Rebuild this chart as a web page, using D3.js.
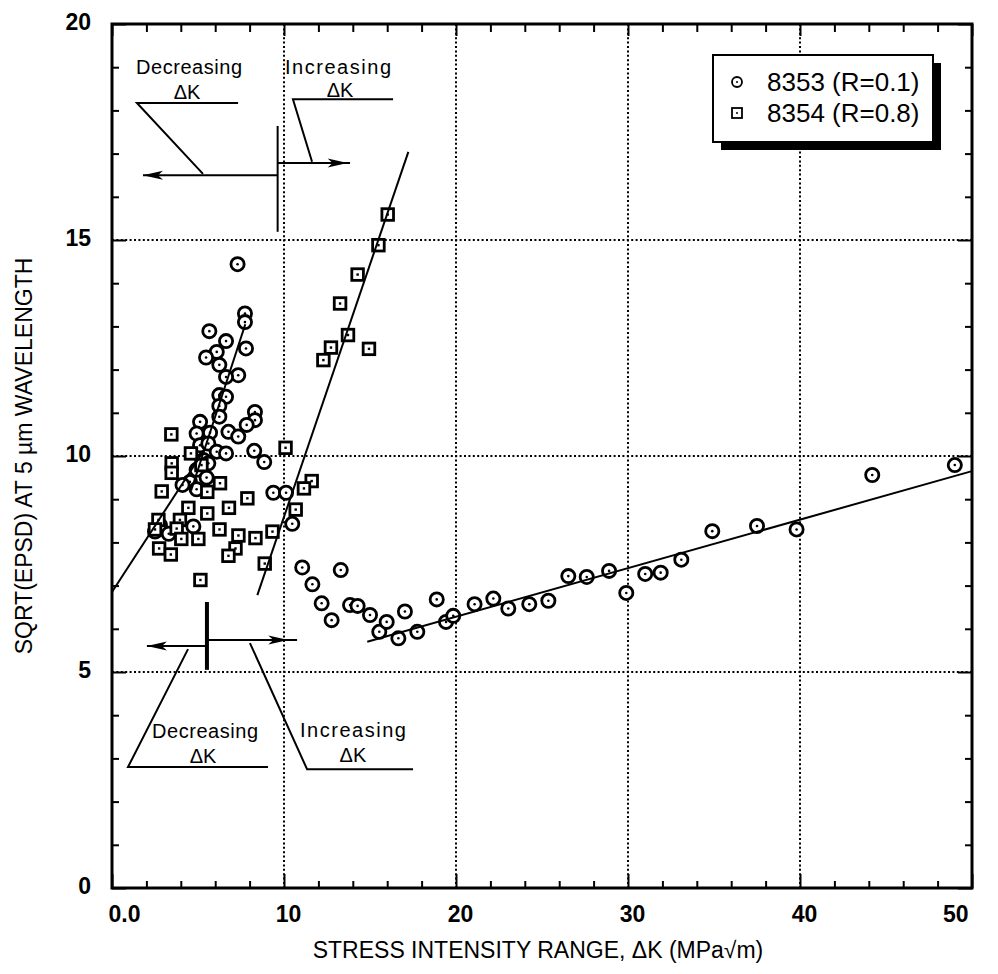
<!DOCTYPE html>
<meta charset="utf-8">
<style>
    body { margin: 0; background: #fff; }
    .axis .domain { display: none; }
    .axis line { stroke: #000; stroke-width: 2; }
    .axis text {
        font-family: "Liberation Sans Narrow", "Liberation Sans", Arial, sans-serif;
        font-weight: bold;
        font-size: 23px;
        fill: #000;
    }
    .note { font-family: "Liberation Sans", Arial, sans-serif; font-size: 20px; fill: #000; }
    .title { font-family: "Liberation Sans", Arial, sans-serif; font-size: 23px; fill: #000; }
</style>
<svg width="998" height="974"></svg>
<script src="https://cdn.jsdelivr.net/npm/d3@7"></script>
<script>

// --- data ---
var xMajor = [0, 10, 20, 30, 40, 50];
var yMajor = [0, 5, 10, 15, 20];
var xGrid = [10, 20, 30, 40];
var yGrid = [5, 10, 15];

// 8353 (R=0.1)  [dK, sqrt(EPSD)]
var s8353 = [
    [7.3,14.44],[7.73,13.3],[7.73,13.1],[5.66,12.89],[6.63,12.66],[7.79,12.49],[6.09,12.41],
    [5.47,12.28],[6.24,12.11],[7.34,11.87],[6.63,11.83],[6.24,11.41],[6.63,11.37],[6.24,11.16],
    [8.31,11.02],[6.24,10.91],[5.12,10.79],[8.31,10.83],[7.83,10.72],[6.77,10.56],[4.92,10.52],
    [7.34,10.45],[5.7,10.54],[5.12,10.25],[5.6,10.29],[6.09,10.1],[6.63,10.06],[8.27,10.12],
    [8.85,9.86],[5.31,9.91],[5.6,9.83],[4.92,9.68],[5.5,9.5],[4.53,9.4],[4.1,9.33],[4.92,9.23],
    [9.38,9.15],[10.12,9.15],[10.48,8.43],[4.73,8.37],[2.5,8.25],[2.79,8.4],[3.3,8.2],
    [11.06,7.42],[11.65,7.03],[12.19,6.59],[12.77,6.2],[13.3,7.36],[13.84,6.55],[14.28,6.53],
    [15.0,6.32],[15.54,5.93],[15.97,6.16],[16.65,5.78],[17.03,6.4],[17.75,5.93],[18.88,6.68],
    [19.42,6.16],[19.84,6.3],[21.08,6.57],[22.17,6.7],[23.04,6.47],[24.26,6.57],[25.37,6.65],
    [26.53,7.22],[27.6,7.2],[28.9,7.34],[29.9,6.83],[31.0,7.27],[31.9,7.3],[33.1,7.6],
    [34.9,8.26],[37.5,8.38],[39.8,8.3],[44.2,9.56],[49.0,9.79]
];

// 8354 (R=0.8)
var s8354 = [
    [16.03,15.59],[15.49,14.88],[14.28,14.2],[13.26,13.53],[13.72,12.8],[12.73,12.51],[12.29,12.22],
    [14.94,12.48],[3.45,10.5],[4.59,10.06],[10.09,10.19],[3.47,9.83],[3.47,9.61],[5.2,9.79],
    [2.89,9.18],[6.28,9.37],[5.54,9.17],[11.61,9.42],[11.16,9.25],[7.87,9.02],[6.8,8.8],
    [4.44,8.8],[5.54,8.67],[10.68,8.76],[3.95,8.52],[2.7,8.52],[6.25,8.3],[9.33,8.25],
    [2.5,8.3],[3.76,8.32],[4.03,8.08],[5.02,8.08],[7.35,8.16],[8.34,8.1],[2.74,7.86],
    [3.42,7.72],[7.18,7.86],[6.77,7.69],[8.88,7.51],[5.14,7.13]
];

// fitted lines (end points)
var fit8353Dec = [[4.6, 9.2], [7.75, 13.05]];
var fit8353Inc = [[14.84, 5.7], [50, 9.65]];
var fit8354Dec = [[0, 6.85], [5.3, 10.1]];
var fit8354Inc = [[8.45, 6.78], [17.23, 17.04]];

var legendLabels = ["8353 (R=0.1)", "8354 (R=0.8)"];

// annotations (in data units)
var noteText = [
    {x: 4.48, y: 19.02, t: "Decreasing"}, {x: 4.36, y: 18.43, t: "ΔK"},
    {x: 13.14, y: 19.02, t: "Increasing"}, {x: 13.26, y: 18.47, t: "ΔK"},
    {x: 5.41, y: 3.64, t: "Decreasing"}, {x: 5.29, y: 3.06, t: "ΔK"},
    {x: 14.01, y: 3.66, t: "Increasing"}, {x: 14.01, y: 3.09, t: "ΔK"}
];
var leaders = [
    [[7.33, 18.17], [1.45, 18.17], [5.29, 16.53]],
    [[16.34, 18.26], [10.52, 18.26], [11.63, 16.81]],
    [[9.07, 2.8], [0.93, 2.8], [4.42, 5.53]],
    [[17.5, 2.75], [11.34, 2.75], [8.02, 5.67]]
];
var arrows = [
    {x0: 9.63, x1: 1.8, tip: 1.8, y: 16.5},
    {x0: 9.63, x1: 13.84, tip: 13.7, y: 16.78},
    {x0: 5.52, x1: 2.03, tip: 2.03, y: 5.6},
    {x0: 5.52, x1: 10.76, tip: 10.25, y: 5.74}
];
var bars = [
    {x: 9.63, y0: 15.19, y1: 17.64, w: 2},
    {x: 5.52, y0: 5.05, y1: 6.62, w: 4}
];

// --- chart ---
var svg = d3.select("svg"),
    margin = {top: 24, right: 26, bottom: 86, left: 112},
    width = +svg.attr("width") - margin.left - margin.right,
    height = +svg.attr("height") - margin.top - margin.bottom,
    g = svg.append("g").attr("transform", "translate(" + margin.left + "," + margin.top + ")");

var x = d3.scaleLinear().domain([0, 50]).range([0, width]);
var y = d3.scaleLinear().domain([0, 20]).range([height, 0]);

var xMinor = d3.range(2, 50, 2).filter(function(d) { return d % 10 !== 0; });
var yMinor = d3.range(1, 20, 1).filter(function(d) { return d % 5 !== 0; });

// dotted grid
g.append("g").selectAll("line").data(xGrid).enter().append("line")
    .attr("x1", x).attr("x2", x).attr("y1", 0).attr("y2", height)
    .attr("stroke", "#000").attr("stroke-width", 2).attr("stroke-dasharray", "2,2.4");
g.append("g").selectAll("line").data(yGrid).enter().append("line")
    .attr("y1", y).attr("y2", y).attr("x1", 0).attr("x2", width)
    .attr("stroke", "#000").attr("stroke-width", 2).attr("stroke-dasharray", "2,2.4");

// axes, ticks pointing inward
var bottomAxis = g.append("g").attr("class", "axis").attr("transform", "translate(0," + height + ")")
    .call(d3.axisBottom(x).tickValues(xMajor).tickSize(-14).tickPadding(18)
        .tickFormat(function(d) { return d === 0 ? "0.0" : d; }));
// first / last label sit inside the frame ends, as in the original
bottomAxis.selectAll("text")
    .attr("text-anchor", function(d, i) { return i === 0 ? "start" : (i === xMajor.length - 1 ? "end" : "middle"); })
    .attr("x", function(d, i) { return i === 0 ? -4 : (i === xMajor.length - 1 ? -4 : 4); });
g.append("g").attr("class", "axis").attr("transform", "translate(0," + height + ")")
    .call(d3.axisBottom(x).tickValues(xMinor).tickSize(-7).tickFormat(""));
g.append("g").attr("class", "axis")
    .call(d3.axisTop(x).tickValues(xMajor).tickSize(-12).tickFormat(""));
g.append("g").attr("class", "axis")
    .call(d3.axisTop(x).tickValues(xMinor).tickSize(-8).tickFormat(""));

g.append("g").attr("class", "axis")
    .call(d3.axisLeft(y).tickValues(yMajor).tickSize(-14).tickPadding(21))
    .selectAll("text").attr("dy", "0.22em");
g.append("g").attr("class", "axis")
    .call(d3.axisLeft(y).tickValues(yMinor).tickSize(-7).tickFormat(""));
g.append("g").attr("class", "axis").attr("transform", "translate(" + width + ",0)")
    .call(d3.axisRight(y).tickValues(yMajor).tickSize(-14).tickFormat(""));
g.append("g").attr("class", "axis").attr("transform", "translate(" + width + ",0)")
    .call(d3.axisRight(y).tickValues(yMinor).tickSize(-7).tickFormat(""));

// frame
g.append("rect").attr("width", width).attr("height", height)
    .attr("fill", "none").attr("stroke", "#000").attr("stroke-width", 3);

// markers
var circ = g.append("g").selectAll("g").data(s8353).enter().append("g")
    .attr("transform", function(d) { return "translate(" + x(d[0]) + "," + y(d[1]) + ")"; });
circ.append("circle").attr("r", 6.6).attr("fill", "#fff").attr("stroke", "#000").attr("stroke-width", 2.8);
circ.append("circle").attr("r", 1.3).attr("fill", "#000");

var sq = g.append("g").selectAll("g").data(s8354).enter().append("g")
    .attr("transform", function(d) { return "translate(" + x(d[0]) + "," + y(d[1]) + ")"; });
sq.append("rect").attr("x", -5.8).attr("y", -5.8).attr("width", 11.6).attr("height", 11.6)
    .attr("fill", "#fff").attr("stroke", "#000").attr("stroke-width", 2.8);
sq.append("rect").attr("x", -1.2).attr("y", -1.2).attr("width", 2.4).attr("height", 2.4).attr("fill", "#000");

// fitted lines
var line = d3.line().x(function(d) { return x(d[0]); }).y(function(d) { return y(d[1]); });
g.append("g").selectAll("path").data([fit8353Dec, fit8353Inc, fit8354Dec, fit8354Inc]).enter().append("path")
    .attr("d", line).attr("fill", "none").attr("stroke", "#000").attr("stroke-width", 2);

// annotations
g.append("g").selectAll("path").data(leaders).enter().append("path")
    .attr("d", line).attr("fill", "none").attr("stroke", "#000").attr("stroke-width", 2);

g.append("g").selectAll("line").data(bars).enter().append("line")
    .attr("x1", function(d) { return x(d.x); }).attr("x2", function(d) { return x(d.x); })
    .attr("y1", function(d) { return y(d.y0); }).attr("y2", function(d) { return y(d.y1); })
    .attr("stroke", "#000").attr("stroke-width", function(d) { return d.w; });

var arr = g.append("g").selectAll("g").data(arrows).enter().append("g");
arr.append("line")
    .attr("x1", function(d) { return x(d.x0); }).attr("x2", function(d) { return x(d.x1); })
    .attr("y1", function(d) { return y(d.y); }).attr("y2", function(d) { return y(d.y); })
    .attr("stroke", "#000").attr("stroke-width", 2);
arr.append("path")
    .attr("d", function(d) {
        var tx = x(d.tip), ty = y(d.y), dir = d.x1 > d.x0 ? 1 : -1;
        return "M" + tx + "," + ty + "L" + (tx - dir * 20) + "," + (ty - 4.5) +
            "L" + (tx - dir * 15) + "," + ty + "L" + (tx - dir * 20) + "," + (ty + 4.5) + "Z";
    })
    .attr("fill", "#000");

g.append("g").selectAll("text").data(noteText).enter().append("text")
    .attr("class", "note")
    .attr("x", function(d) { return x(d.x); })
    .attr("y", function(d) { return y(d.y); })
    .attr("dy", "0.36em")
    .attr("text-anchor", "middle")
    .attr("textLength", function(d) { return d.t === "ΔK" ? null : 106; })
    .text(function(d) { return d.t; });

// legend
var lg = g.append("g").attr("transform", "translate(" + (width - 259) + ",31)");
lg.append("rect").attr("x", 8).attr("y", 8).attr("width", 220).attr("height", 87).attr("fill", "#000");
lg.append("rect").attr("width", 220).attr("height", 87)
    .attr("fill", "#fff").attr("stroke", "#000").attr("stroke-width", 2);
var li = lg.selectAll(".li").data(legendLabels).enter().append("g")
    .attr("class", "li")
    .attr("transform", function(d, i) { return "translate(0," + (27 + i * 31) + ")"; });
li.filter(function(d, i) { return i === 0; }).append("circle")
    .attr("cx", 24).attr("r", 5).attr("fill", "#fff").attr("stroke", "#000").attr("stroke-width", 1.8);
li.filter(function(d, i) { return i === 1; }).append("rect")
    .attr("x", 19).attr("y", -5).attr("width", 10).attr("height", 10)
    .attr("fill", "#fff").attr("stroke", "#000").attr("stroke-width", 1.8);
li.append("circle").attr("cx", 24).attr("r", 1).attr("fill", "#000");
li.append("text")
    .attr("x", 54).attr("dy", "0.36em")
    .attr("font-family", "Liberation Sans, Arial, sans-serif")
    .attr("font-size", 26)
    .text(function(d) { return d; });

// axis titles
svg.append("text").attr("class", "title")
    .attr("x", margin.left + width / 2 - 4).attr("y", 958)
    .attr("text-anchor", "middle")
    .text("STRESS INTENSITY RANGE, ΔK (MPa√m)");
svg.append("text").attr("class", "title")
    .attr("transform", "translate(32," + (margin.top + height / 2) + ") rotate(-90)")
    .attr("text-anchor", "middle")
    .text("SQRT(EPSD) AT 5 µm WAVELENGTH");

</script>
